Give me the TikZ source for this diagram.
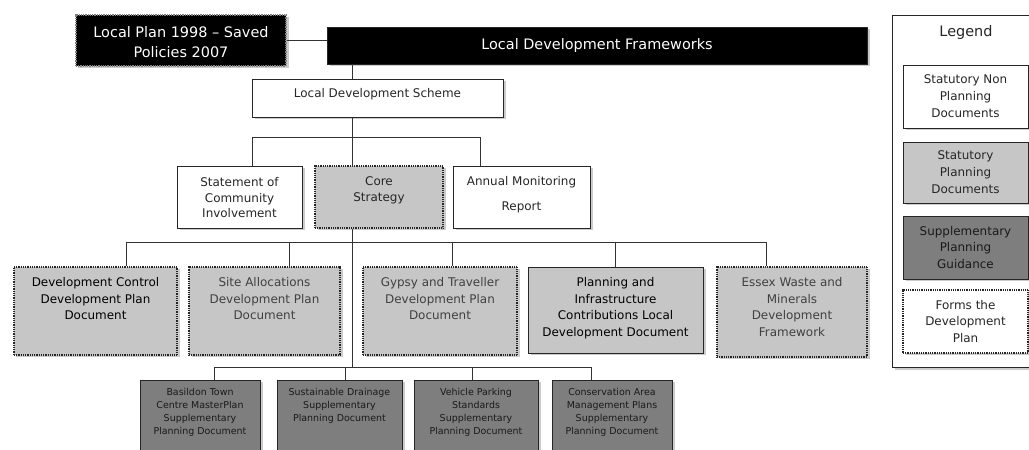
\documentclass[tikz,border=0pt]{standalone}
\usepackage{fontspec}
\setmainfont{DejaVu Sans}
\usetikzlibrary{shadows}

\definecolor{statgray}{HTML}{C6C6C6}
\definecolor{suppgray}{HTML}{7E7E7E}
% text box of fixed size, lines starting from the top
\newcommand{\boxtext}[4]{\parbox[c][#2][t]{#1}{\centering\vspace*{#3}#4}}

\begin{document}
\begin{tikzpicture}[x=1bp, y=-1bp,
	doc/.style={draw=black!85, line width=0.8bp, inner sep=0pt, text=black!85,
		drop shadow={shadow xshift=2.5bp, shadow yshift=-2.5bp, fill=black!40}},
	nonplan/.style={doc, fill=white},
	plan/.style={doc, fill=statgray},
	supp/.style={doc, fill=suppgray, text=black!90},
	devplan/.style={densely dotted, line width=1.6bp},
	frame/.style={doc, fill=black, text=white},
	wire/.style={draw=black!80, line width=0.8bp},
	big/.style={font=\fontsize{14.5}{20}\selectfont},
	mid/.style={font=\fontsize{12}{17}\selectfont},
	small/.style={font=\fontsize{9.5}{13.3}\selectfont}]
	\fill[white] (0,0) rectangle (1029,450);
	\clip (0,0) rectangle (1029,450);
	%Top level
	\node[frame, big, draw=gray, devplan] (lp) at (181,40.5)
		{\boxtext{210bp}{51bp}{12bp}{Local Plan 1998 – Saved\\Policies 2007}};
	\node[frame, big] (ldf) at (597,45.5)
		{\boxtext{540bp}{37bp}{12bp}{Local Development Frameworks}};
	\node[nonplan, mid] (lds) at (377.5,98)
		{\boxtext{251bp}{38bp}{9bp}{Local Development Scheme}};
	%Second row
	\node[nonplan, font=\fontsize{12}{16}\selectfont] (sci) at (239.5,197)
		{\boxtext{125bp}{62bp}{11bp}{Statement of\\Community\\Involvement}};
	\node[plan, devplan, font=\fontsize{12}{16}\selectfont] (cs) at (379,197)
		{\boxtext{128bp}{62bp}{11bp}{Core\\Strategy}};
	\node[nonplan, mid] (amr) at (521.5,197)
		{\boxtext{137bp}{62bp}{10bp}{Annual Monitoring\\[8bp]Report}};
	%Development plan documents
	\node[plan, devplan, mid, text=black] (dc) at (95.5,311)
		{\boxtext{163bp}{88bp}{10bp}{Development Control\\Development Plan\\Document}};
	\node[plan, devplan, mid, text=black!75] (sa) at (264.5,311)
		{\boxtext{151bp}{88bp}{10bp}{Site Allocations\\Development Plan\\Document}};
	\node[plan, devplan, mid, text=black!75] (gt) at (440,311)
		{\boxtext{154bp}{88bp}{10bp}{Gypsy and Traveller\\Development Plan\\Document}};
	\node[plan, mid, text=black] (picl) at (615.5,310)
		{\boxtext{175bp}{86bp}{10bp}{Planning and\\Infrastructure\\Contributions Local\\Development Document}};
	\node[plan, devplan, mid, text=black!75] (ew) at (792,312)
		{\boxtext{150bp}{90bp}{10bp}{Essex Waste and\\Minerals\\Development\\Framework}};
	%Supplementary planning documents
	\node[supp, small] (bas) at (200,430)
		{\boxtext{120bp}{100bp}{8bp}{Basildon Town\\Centre MasterPlan\\Supplementary\\Planning Document}};
	\node[supp, small] (sud) at (339.5,430)
		{\boxtext{125bp}{100bp}{8bp}{Sustainable Drainage\\Supplementary\\Planning Document}};
	\node[supp, small] (vps) at (476,430)
		{\boxtext{124bp}{100bp}{8bp}{Vehicle Parking\\Standards\\Supplementary\\Planning Document}};
	\node[supp, small] (con) at (612,430)
		{\boxtext{120bp}{100bp}{8bp}{Conservation Area\\Management Plans\\Supplementary\\Planning Document}};
	%Connectors
	\coordinate (trunk) at (352,0);
	\draw[wire] (lp.east) -- (lp.east -| ldf.west);
	\draw[wire] (ldf.south -| trunk) -- (lds.north -| trunk);
	\draw[wire] (lds.south -| trunk) -- (cs.north -| trunk);
	\coordinate (bus1w) at (252,137);
	\coordinate (bus1e) at (480,137);
	\draw[wire] (bus1w) -- (bus1e);
	\draw[wire] (bus1w) -- (bus1w |- sci.north);
	\draw[wire] (bus1e) -- (bus1e |- amr.north);
	\coordinate (bus3) at (352,367);
	\draw[wire] (cs.south -| trunk) -- (bus3);
	\draw[wire] (126,242) coordinate (bus2w) -- (766,242) coordinate (bus2e);
	\foreach \x/\id in {126/dc, 289/sa, 452/gt, 615/picl, 766/ew}{
		\coordinate (drop\id) at (\x,242);
		\draw[wire] (drop\id) -- (drop\id |- \id.north);
	}
	\draw[wire] (214,367) coordinate (bus3w) -- (591,367) coordinate (bus3e);
	\foreach \x/\id in {214/bas, 345/sud, 472/vps, 591/con}{
		\coordinate (drop\id) at (\x,367);
		\draw[wire] (drop\id) -- (drop\id |- \id.north);
	}
	%Legend
	\node[nonplan, minimum width=148bp, minimum height=352bp] (legend) at (966,191) {};
	\node[big, text=black!85] (legendtitle) at (966,33) {Legend};
	\node[nonplan, mid, align=center, minimum width=125bp, minimum height=63bp] (keynon) at (965.5,96.5)
		{Statutory Non\\Planning\\Documents};
	\node[plan, mid, align=center, minimum width=125bp, minimum height=61bp] (keyplan) at (965.5,172.5)
		{Statutory\\Planning\\Documents};
	\node[supp, mid, align=center, minimum width=125bp, minimum height=63bp] (keysupp) at (965.5,247.5)
		{Supplementary\\Planning\\Guidance};
	\node[nonplan, devplan, mid, align=center, minimum width=125bp, minimum height=63bp] (keydev) at (965.5,321.5)
		{Forms the\\Development\\Plan};
\end{tikzpicture}
\end{document}
